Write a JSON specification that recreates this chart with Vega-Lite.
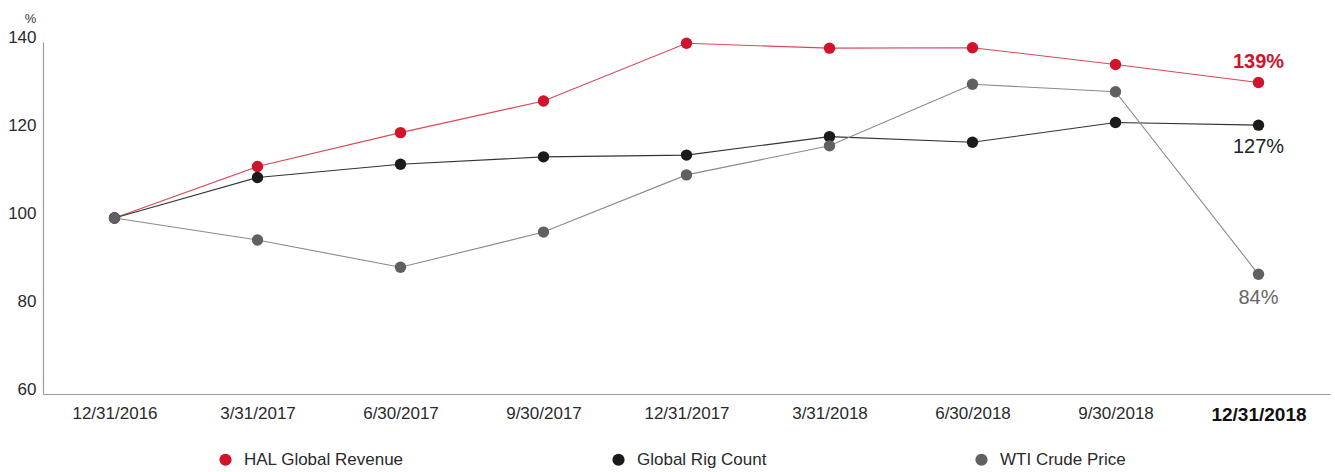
{
  "$schema": "https://vega.github.io/schema/vega-lite/v6.json",
  "width": 1287,
  "height": 352,
  "autosize": {"type": "none"},
  "padding": {"left": 43, "top": 42, "right": 5, "bottom": 78},
  "background": "white",
  "config": {"view": {"stroke": null}, "font": "Liberation Sans"},
  "data": {
    "values": [
      {"date": "12/31/2016", "series": "HAL Global Revenue", "pct": 100},
      {"date": "3/31/2017", "series": "HAL Global Revenue", "pct": 111.7},
      {"date": "6/30/2017", "series": "HAL Global Revenue", "pct": 119.4},
      {"date": "9/30/2017", "series": "HAL Global Revenue", "pct": 126.6},
      {"date": "12/31/2017", "series": "HAL Global Revenue", "pct": 139.7},
      {"date": "3/31/2018", "series": "HAL Global Revenue", "pct": 138.6},
      {"date": "6/30/2018", "series": "HAL Global Revenue", "pct": 138.7},
      {"date": "9/30/2018", "series": "HAL Global Revenue", "pct": 134.9},
      {"date": "12/31/2018", "series": "HAL Global Revenue", "pct": 130.8, "label": "139%"},
      {"date": "12/31/2016", "series": "Global Rig Count", "pct": 100},
      {"date": "3/31/2017", "series": "Global Rig Count", "pct": 109.2},
      {"date": "6/30/2017", "series": "Global Rig Count", "pct": 112.2},
      {"date": "9/30/2017", "series": "Global Rig Count", "pct": 113.9},
      {"date": "12/31/2017", "series": "Global Rig Count", "pct": 114.3},
      {"date": "3/31/2018", "series": "Global Rig Count", "pct": 118.5},
      {"date": "6/30/2018", "series": "Global Rig Count", "pct": 117.2},
      {"date": "9/30/2018", "series": "Global Rig Count", "pct": 121.7},
      {"date": "12/31/2018", "series": "Global Rig Count", "pct": 121.1, "label": "127%"},
      {"date": "12/31/2016", "series": "WTI Crude Price", "pct": 100},
      {"date": "3/31/2017", "series": "WTI Crude Price", "pct": 95.0},
      {"date": "6/30/2017", "series": "WTI Crude Price", "pct": 88.8},
      {"date": "9/30/2017", "series": "WTI Crude Price", "pct": 96.8},
      {"date": "12/31/2017", "series": "WTI Crude Price", "pct": 109.8},
      {"date": "3/31/2018", "series": "WTI Crude Price", "pct": 116.4},
      {"date": "6/30/2018", "series": "WTI Crude Price", "pct": 130.4},
      {"date": "9/30/2018", "series": "WTI Crude Price", "pct": 128.7},
      {"date": "12/31/2018", "series": "WTI Crude Price", "pct": 87.2, "label": "84%"}
    ]
  },
  "encoding": {
    "x": {
      "field": "date",
      "type": "ordinal",
      "sort": ["12/31/2016", "3/31/2017", "6/30/2017", "9/30/2017", "12/31/2017", "3/31/2018", "6/30/2018", "9/30/2018", "12/31/2018"],
      "scale": {"type": "point", "padding": 0.5},
      "axis": {
        "title": null,
        "labelAngle": 0,
        "labelFontSize": {"condition": {"test": "datum.value === '12/31/2018'", "value": 19}, "value": 17},
        "labelFontWeight": {"condition": {"test": "datum.value === '12/31/2018'", "value": "bold"}, "value": "normal"},
        "labelColor": {"condition": {"test": "datum.value === '12/31/2018'", "value": "#111111"}, "value": "#2a2a2a"},
        "labelPadding": 11,
        "ticks": false,
        "grid": false,
        "domainColor": "#9a9a9a",
        "domainWidth": 1.2
      }
    },
    "y": {
      "field": "pct",
      "type": "quantitative",
      "scale": {"domain": [60, 140], "nice": false, "zero": false},
      "axis": {
        "values": [60, 80, 100, 120, 140],
        "title": "%",
        "titleAngle": 0,
        "titleX": -13,
        "titleY": -20,
        "titleAlign": "center",
        "titleBaseline": "alphabetic",
        "titleFontSize": 13,
        "titleFontWeight": "normal",
        "titleColor": "#333333",
        "labelFontSize": 17,
        "labelBaseline": "alphabetic",
        "labelPadding": 7,
        "labelColor": "#2a2a2a",
        "labelFlush": false,
        "ticks": false,
        "grid": false,
        "domainColor": "#9a9a9a",
        "domainWidth": 1.2
      }
    }
  },
  "layer": [
    {
      "mark": {"type": "line", "strokeWidth": 1.1},
      "encoding": {
        "color": {
          "field": "series",
          "type": "nominal",
          "scale": {"domain": ["HAL Global Revenue", "Global Rig Count", "WTI Crude Price"], "range": ["#d84a55", "#333333", "#8a8a8a"]},
          "legend": null
        }
      }
    },
    {
      "mark": {"type": "circle", "size": 130, "opacity": 1},
      "encoding": {
        "fill": {
          "field": "series",
          "type": "nominal",
          "scale": {"domain": ["HAL Global Revenue", "Global Rig Count", "WTI Crude Price"], "range": ["#d1142b", "#1b1b1b", "#606064"]},
          "legend": {
            "orient": "none",
            "legendX": 174,
            "legendY": 409,
            "direction": "horizontal",
            "title": null,
            "symbolType": "circle",
            "symbolSize": 150,
            "symbolOpacity": 1,
            "labelFontSize": 17,
            "labelColor": "#2a2a2a",
            "labelOffset": 10,
            "columnPadding": 206
          }
        }
      }
    },
    {
      "transform": [{"filter": "datum.series === 'HAL Global Revenue' && datum.label"}],
      "mark": {"type": "text", "dy": -20, "fontSize": 20, "fontWeight": "bold", "color": "#d1142b"},
      "encoding": {"text": {"field": "label"}}
    },
    {
      "transform": [{"filter": "datum.series === 'Global Rig Count' && datum.label"}],
      "mark": {"type": "text", "dy": 22, "fontSize": 20, "color": "#222222"},
      "encoding": {"text": {"field": "label"}}
    },
    {
      "transform": [{"filter": "datum.series === 'WTI Crude Price' && datum.label"}],
      "mark": {"type": "text", "dy": 24, "fontSize": 20, "color": "#666666"},
      "encoding": {"text": {"field": "label"}}
    }
  ],
  "resolve": {"scale": {"color": "independent", "fill": "independent"}}
}
